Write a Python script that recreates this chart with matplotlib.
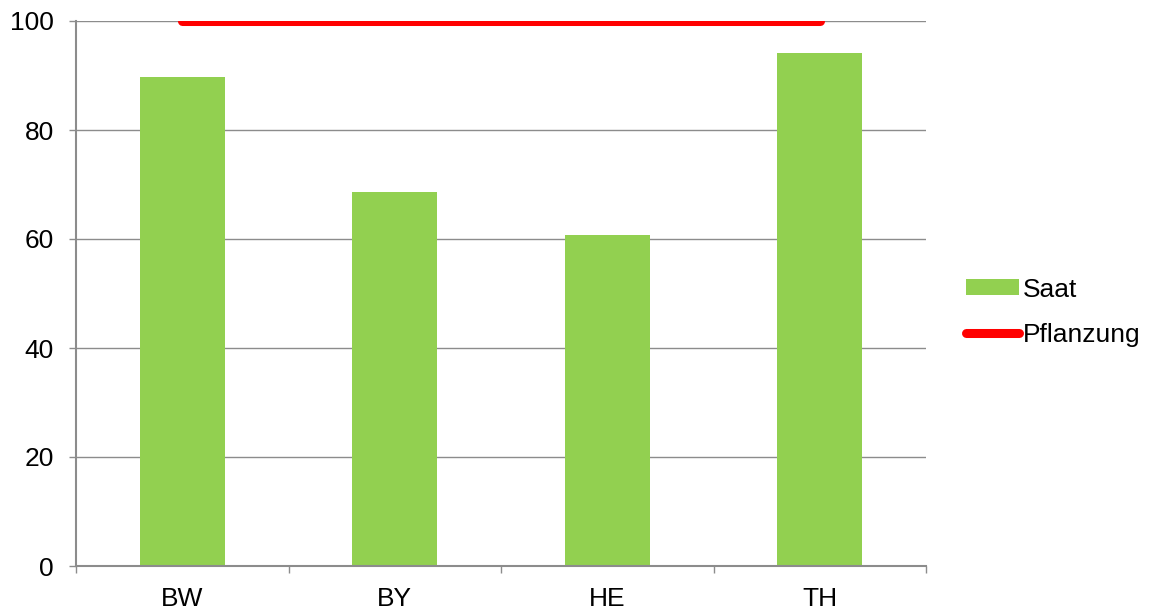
import numpy as np
import matplotlib.pyplot as plt
from matplotlib.lines import Line2D
from matplotlib.patches import Patch

plt.rcParams['font.family'] = ['Liberation Sans', 'DejaVu Sans']

# data
regions = ['BW', 'BY', 'HE', 'TH']
saat = [89.8, 68.6, 60.7, 94.1]
pflanzung = [100, 100, 100, 100]

green = '#92d050'
red = '#ff0000'
grid_grey = '#8c8c8c'

fig = plt.figure(figsize=(11.49, 6.10), dpi=100)
ax = fig.add_axes([76 / 1149, 44 / 610, 850 / 1149, 545 / 610])

x = np.arange(len(regions))
ax.bar(x, saat, width=0.4, color=green, zorder=2)
ax.plot(x, pflanzung, color=red, lw=6.5, solid_capstyle='round', zorder=3)

ax.set_xlim(-0.5, len(regions) - 0.5)
ax.set_ylim(0, 100)
ax.set_yticks(np.arange(0, 101, 20))
ax.yaxis.grid(True, color=grid_grey, lw=1)
ax.set_axisbelow(True)

# category labels in the middle, tick marks on the boundaries
ax.set_xticks(x)
ax.set_xticklabels(regions)
ax.set_xticks(np.arange(-0.5, len(regions)), minor=True)
ax.tick_params(axis='x', which='major', length=0, pad=15, labelsize=19)
ax.tick_params(axis='x', which='minor', length=5, width=1, color=grid_grey)
ax.tick_params(axis='y', length=5, width=1, color=grid_grey, pad=11, labelsize=19)

for side in ['top', 'right']:
    ax.spines[side].set_visible(False)
for side in ['left', 'bottom']:
    ax.spines[side].set_color(grid_grey)
    ax.spines[side].set_linewidth(1.5)

handles = [Patch(facecolor=green, label='Saat'),
           Line2D([], [], color=red, lw=6.5, solid_capstyle='round', label='Pflanzung')]
fig.legend(handles=handles, loc='center left', bbox_to_anchor=(966 / 1149, 0.488),
           frameon=False, fontsize=19, handlelength=2.0, handleheight=0.55,
           handletextpad=0.15, labelspacing=0.8, borderpad=0, borderaxespad=0)

fig.savefig('out.png', dpi=100)
